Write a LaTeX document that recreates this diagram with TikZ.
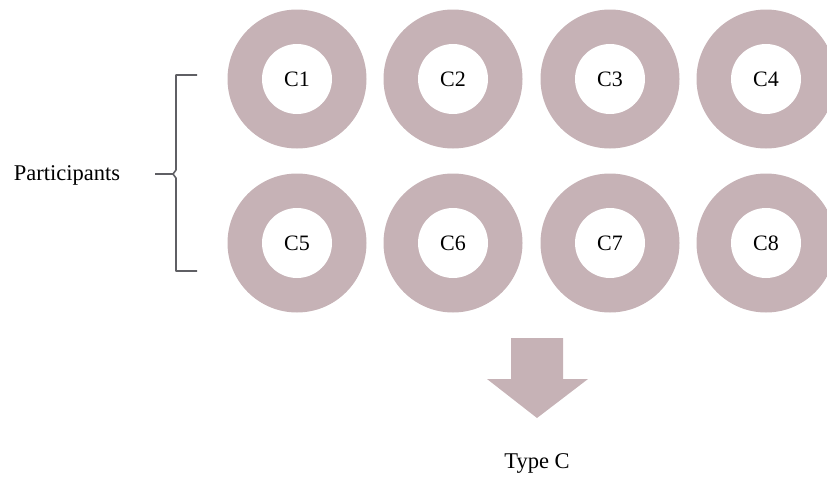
\documentclass[tikz,border=0pt]{standalone}
\usepackage{fontspec}
\setmainfont{Liberation Serif}
\definecolor{ringcol}{RGB}{198,178,182}
\definecolor{bracecol}{RGB}{95,95,100}
\begin{document}
\begin{tikzpicture}[x=1pt,y=-1pt,
  ring/.style={circle,fill=ringcol,minimum size=139pt,inner sep=0pt},
  hole/.style={circle,fill=white,minimum size=70pt,inner sep=0pt,font=\fontsize{22}{26}\selectfont},
  lbl/.style={font=\fontsize{22.5}{27}\selectfont,inner sep=0pt}]
\useasboundingbox (0,0) rectangle (827,482);
\foreach \n/\x/\y in {1/297/79,2/453/79,3/610/79,4/766/79,5/297/243,6/453/243,7/610/243,8/766/243}{
  \node[ring] (r\n) at (\x,\y) {};
  \node[hole] (c\n) at (\x,\y) {C\n};
}
\node[lbl] (part) at (67,175) {Participants};
\coordinate (bt) at (197,75);
\coordinate (bb) at (197,271);
\coordinate (bm) at (155,174);
\draw[bracecol,line width=1.6pt,line join=round]
  (bt) -- (176,75) -- (176,170) -- (173,174) -- (176,178) -- (176,271) -- (bb);
\draw[bracecol,line width=1.6pt] (bm) -- (173,174);
\fill[ringcol] (511,338) -- (563,338) -- (563,379) -- (588,379) -- (537,418) -- (487,379) -- (511,379) -- cycle;
\node[lbl] (typec) at (537,463) {Type C};
\end{tikzpicture}
\end{document}
